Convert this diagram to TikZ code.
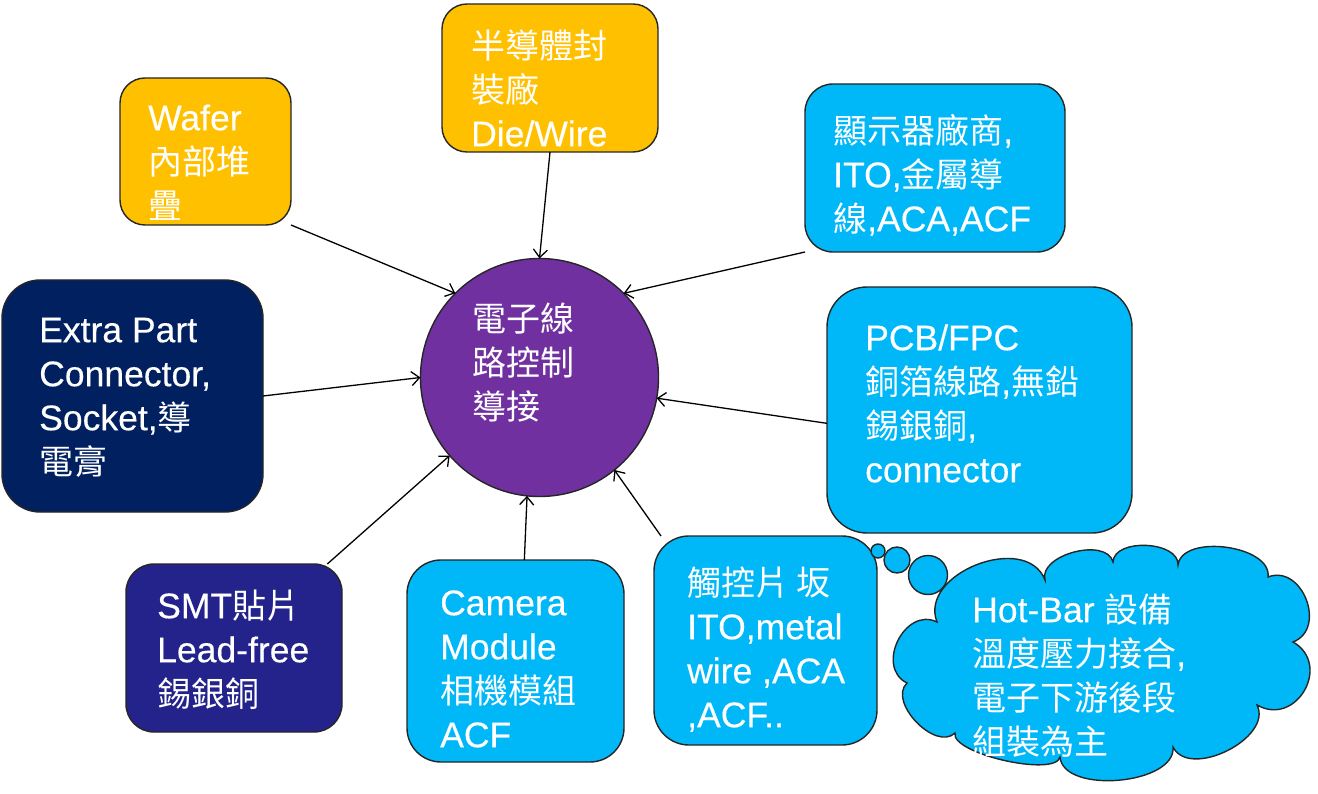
\documentclass[tikz,border=0pt]{standalone}
\usepackage{fontspec}
\setmainfont{Liberation Sans}[Scale=1.045, FakeBold=0.35]
\newfontfamily\cjk{Noto Sans CJK TC}
\usetikzlibrary{arrows.meta}
\newcommand\cj[1]{{\cjk #1}}
\newcommand\fl{\rule{0pt}{32pt}}
\definecolor{cyel}{HTML}{FFC000}
\definecolor{cblue}{HTML}{00B7F8}
\definecolor{cnavy}{HTML}{002060}
\definecolor{cindigo}{HTML}{23238B}
\definecolor{cpurple}{HTML}{7030A0}
\definecolor{cedge}{HTML}{262626}
\tikzset{
  boxnode/.style={draw=cedge, line width=1.4pt, inner sep=0pt, outer sep=0pt},
  lbl/.style={text=white, inner sep=0pt, align=left, anchor=north west,
    font=\fontsize{34}{44}\selectfont},
  conn/.style={line width=1.3pt, -{Straight Barb[length=8pt,width=14pt]}},
  lobe/.style={bend left=90, looseness=#1},
}
\begin{document}
\begin{tikzpicture}[x=1pt,y=-1pt]
\useasboundingbox (0,0) rectangle (1318,794);
\fill[white] (0,0) rectangle (1318,794);

% boxes
\node[boxnode, fill=cyel, rounded corners=25pt, minimum width=171pt, minimum height=147pt] (wafer) at (205.5,151.5) {};
\node[boxnode, fill=cyel, rounded corners=25pt, minimum width=216pt, minimum height=148pt] (topb) at (550,78) {};
\node[boxnode, fill=cblue, rounded corners=28pt, minimum width=260pt, minimum height=168pt] (disp) at (935,168) {};
\node[boxnode, fill=cnavy, rounded corners=38pt, minimum width=261pt, minimum height=232pt] (extra) at (132.5,396) {};
\node[boxnode, fill=cblue, rounded corners=40pt, minimum width=305pt, minimum height=246pt] (pcb) at (979.5,410) {};
\node[boxnode, fill=cindigo, rounded corners=28pt, minimum width=216pt, minimum height=168pt] (smt) at (234,648) {};
\node[boxnode, fill=cblue, rounded corners=34pt, minimum width=217pt, minimum height=202pt] (cam) at (515.5,661) {};
\node[boxnode, fill=cblue, rounded corners=35pt, minimum width=223pt, minimum height=209pt] (touch) at (765.5,640.5) {};

% centre circle
\node[boxnode, circle, fill=cpurple, minimum size=238pt] (c) at (539.5,377.5) {};

% cloud callout
\draw[draw=cedge, line width=1.4pt, fill=cblue]
  (937,622) to[lobe=1.15] (1045,580) to[lobe=0.95] (1113,562)
  to[lobe=0.95] (1178,565) to[lobe=0.9] (1268,577)
  to[lobe=1.35] (1293,642) to[lobe=1.6] (1257,705)
  to[lobe=1.0] (1173,747) to[lobe=0.85] (1060,757)
  to[lobe=0.5] (955,733) to[lobe=1.0] (907,683)
  to[lobe=1.35] (937,622) -- cycle;
\coordinate (cloudc) at (1106,661);
\node[boxnode, circle, fill=cblue, minimum size=14pt] (bub1) at (878,551) {};
\node[boxnode, circle, fill=cblue, minimum size=26pt] (bub2) at (897,560) {};
\node[boxnode, circle, fill=cblue, minimum size=39pt] (bub3) at (928,575) {};

% texts
\node[lbl] (twafer) at (148,98) {\fl Wafer\\\cj{內部堆}\\\cj{疊}};
\node[lbl] (ttopb) at (471,26) {\fl\cj{半導體封}\\\cj{裝廠}\\Die/Wire};
\node[lbl] (tdisp) at (833,111) {\fl\cj{顯示器廠商},\\ITO,\cj{金屬導}\\\cj{線},ACA,ACF};
\node[lbl] (textra) at (39,310) {\fl Extra Part\\Connector,\\Socket,\cj{導}\\\cj{電膏}};
\node[lbl] (tpcb) at (865,318) {\fl PCB/FPC\\\cj{銅箔線路},\cj{無鉛}\\\cj{錫銀銅},\\connector};
\node[lbl] (tsmt) at (157,586) {\fl SMT\cj{貼片}\\Lead-free\\\cj{錫銀銅}};
\node[lbl] (tcam) at (440,583) {\fl Camera\\Module\\\cj{相機模組}\\ACF};
\node[lbl] (ttouch) at (687,563) {\fl\cj{觸控片 坂}\\ITO,metal\\wire ,ACA\\,ACF..};
\node[lbl] (tcloud) at (972,590) {\fl Hot-Bar \cj{設備}\\\cj{溫度壓力接合},\\\cj{電子下游後段}\\\cj{組裝為主}};
\node[lbl] (tc) at (472,299) {\fl\cj{電子線}\\\cj{路控制}\\\cj{導接}};

% connectors
\draw[conn] (wafer.south east) -- (c.135);
\draw[conn] (topb.south) -- (c.90);
\draw[conn] (disp.south west) -- (c.45);
\draw[conn] (extra.east) -- (c.180);
\draw[conn] (pcb.185) -- (c.-10);
\draw[conn] (smt.42) -- (c.221);
\draw[conn] (cam.85) -- (c.264);
\draw[conn] (touch.135) -- (c.-51);
\end{tikzpicture}
\end{document}
